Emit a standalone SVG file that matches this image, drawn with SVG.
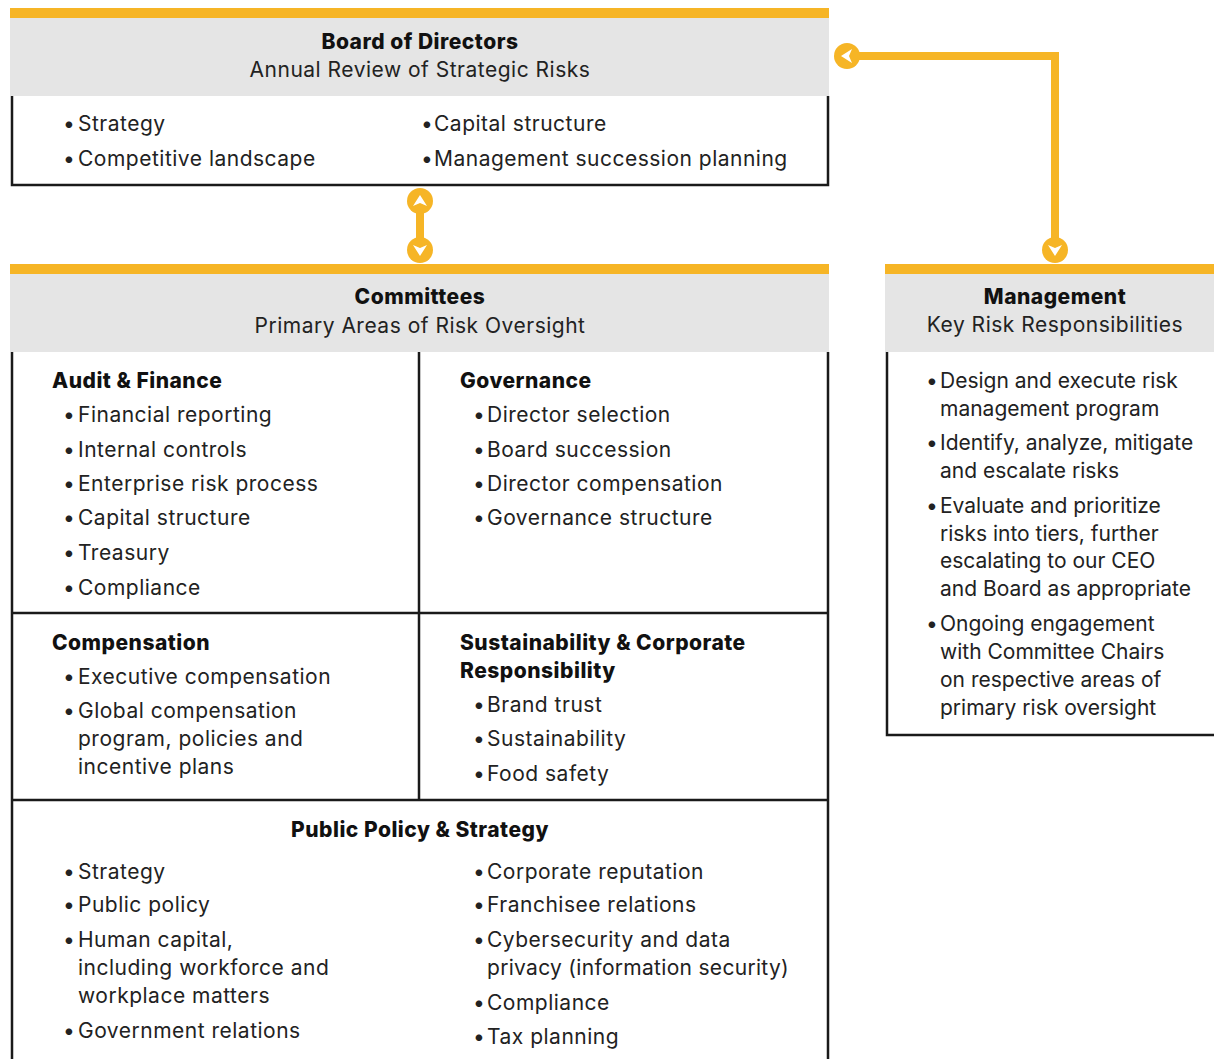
<svg xmlns="http://www.w3.org/2000/svg" width="1214" height="1059" viewBox="0 0 1214 1059">
<style>
.bar{fill:#F6B526}
.hdr{fill:#E5E5E5}
.bd{stroke:#1a1a1a;stroke-width:2.5;fill:none}
.con{stroke:#F6B526;stroke-width:8;fill:none}
.dot{fill:#F6B526}
.chev{fill:#fff}
text{font-family:Inter,"Noto Sans","Liberation Sans",sans-serif;font-size:21px;letter-spacing:0.5px;fill:#222}
.t{font-weight:800;fill:#111}
.c{text-anchor:middle}
.m{letter-spacing:0}
</style>
<rect width="1214" height="1059" fill="#fff"/>

<g id="connectors">
  <path class="con" d="M420 200 V250"/>
  <path class="con" d="M847 56 H1055 V250"/>
  <circle class="dot" cx="420" cy="201" r="13"/>
  <path class="chev" d="M413 206 L420 195 L427 206 L420 203 Z"/>
  <circle class="dot" cx="420" cy="250" r="13"/>
  <path class="chev" d="M413 245 L420 256 L427 245 L420 248 Z"/>
  <circle class="dot" cx="847" cy="56" r="13"/>
  <path class="chev" d="M852 49 L841 56 L852 63 L849 56 Z"/>
  <circle class="dot" cx="1055" cy="250" r="13"/>
  <path class="chev" d="M1048 245 L1055 256 L1062 245 L1055 248 Z"/>
</g>

<g id="board">
  <rect class="bar" x="10" y="8" width="819" height="10"/>
  <rect class="hdr" x="10" y="18" width="819" height="78"/>
  <path class="bd" d="M12 96 V185 H828 V96"/>
  <text class="t c" x="420" y="49">Board of Directors</text>
  <text class="c" x="420" y="77">Annual Review of Strategic Risks</text>
  <text x="63" y="131">•<tspan x="78">Strategy</tspan></text>
  <text x="63" y="166">•<tspan x="78">Competitive landscape</tspan></text>
  <text x="421" y="131">•<tspan x="434">Capital structure</tspan></text>
  <text x="421" y="166">•<tspan x="434">Management succession planning</tspan></text>
</g>

<g id="committees">
  <rect class="bar" x="10" y="264" width="819" height="10"/>
  <rect class="hdr" x="10" y="274" width="819" height="78"/>
  <path class="bd" d="M12 352 V1059 M828 352 V1059 M419 352 V800 M12 613 H828 M12 800 H828"/>
  <text class="t c" x="420" y="304">Committees</text>
  <text class="c" x="420" y="333">Primary Areas of Risk Oversight</text>
</g>

<g id="audit-finance">
  <text class="t" x="52" y="388">Audit &amp; Finance</text>
  <text x="63" y="422">•<tspan x="78">Financial reporting</tspan></text>
  <text x="63" y="457">•<tspan x="78">Internal controls</tspan></text>
  <text x="63" y="491">•<tspan x="78">Enterprise risk process</tspan></text>
  <text x="63" y="525">•<tspan x="78">Capital structure</tspan></text>
  <text x="63" y="560">•<tspan x="78">Treasury</tspan></text>
  <text x="63" y="595">•<tspan x="78">Compliance</tspan></text>
</g>

<g id="governance">
  <text class="t" x="460" y="388">Governance</text>
  <text x="473" y="422">•<tspan x="487">Director selection</tspan></text>
  <text x="473" y="457">•<tspan x="487">Board succession</tspan></text>
  <text x="473" y="491">•<tspan x="487">Director compensation</tspan></text>
  <text x="473" y="525">•<tspan x="487">Governance structure</tspan></text>
</g>

<g id="compensation">
  <text class="t" x="52" y="650">Compensation</text>
  <text x="63" y="684">•<tspan x="78">Executive compensation</tspan></text>
  <text x="63" y="718">•<tspan x="78">Global compensation</tspan></text>
  <text x="78" y="746">program, policies and</text>
  <text x="78" y="774">incentive plans</text>
</g>

<g id="sustainability">
  <text class="t" x="460" y="650">Sustainability &amp; Corporate</text>
  <text class="t" x="460" y="678">Responsibility</text>
  <text x="473" y="712">•<tspan x="487">Brand trust</tspan></text>
  <text x="473" y="746">•<tspan x="487">Sustainability</tspan></text>
  <text x="473" y="781">•<tspan x="487">Food safety</tspan></text>
</g>

<g id="public-policy">
  <text class="t c" x="420" y="837">Public Policy &amp; Strategy</text>
  <text x="63" y="879">•<tspan x="78">Strategy</tspan></text>
  <text x="63" y="912">•<tspan x="78">Public policy</tspan></text>
  <text x="63" y="947">•<tspan x="78">Human capital,</tspan></text>
  <text x="78" y="975">including workforce and</text>
  <text x="78" y="1003">workplace matters</text>
  <text x="63" y="1038">•<tspan x="78">Government relations</tspan></text>
  <text x="473" y="879">•<tspan x="487">Corporate reputation</tspan></text>
  <text x="473" y="912">•<tspan x="487">Franchisee relations</tspan></text>
  <text x="473" y="947">•<tspan x="487">Cybersecurity and data</tspan></text>
  <text x="487" y="975" style="letter-spacing:0.3px">privacy (information security)</text>
  <text x="473" y="1010">•<tspan x="487">Compliance</tspan></text>
  <text x="473" y="1044">•<tspan x="487">Tax planning</tspan></text>
</g>

<g id="management">
  <rect class="bar" x="885" y="264" width="329" height="10"/>
  <rect class="hdr" x="885" y="274" width="329" height="78"/>
  <path class="bd" d="M887 352 V735 H1214"/>
  <text class="t c" x="1055" y="304">Management</text>
  <text class="c" x="1055" y="332">Key Risk Responsibilities</text>
  <text class="m" x="926" y="388">•<tspan x="940">Design and execute risk</tspan></text>
  <text class="m" x="940" y="416">management program</text>
  <text class="m" x="926" y="450">•<tspan x="940">Identify, analyze, mitigate</tspan></text>
  <text class="m" x="940" y="478">and escalate risks</text>
  <text class="m" x="926" y="513">•<tspan x="940">Evaluate and prioritize</tspan></text>
  <text class="m" x="940" y="541">risks into tiers, further</text>
  <text class="m" x="940" y="568">escalating to our CEO</text>
  <text class="m" x="940" y="596">and Board as appropriate</text>
  <text class="m" x="926" y="631">•<tspan x="940">Ongoing engagement</tspan></text>
  <text class="m" x="940" y="659">with Committee Chairs</text>
  <text class="m" x="940" y="687">on respective areas of</text>
  <text class="m" x="940" y="715">primary risk oversight</text>
</g>
</svg>
